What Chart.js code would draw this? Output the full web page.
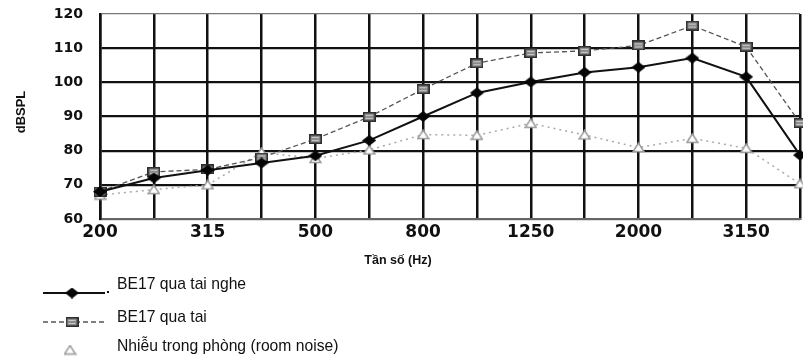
<!DOCTYPE html>
<html>
<head>
<meta charset="utf-8">
<script src="https://cdn.jsdelivr.net/npm/chart.js@4/dist/chart.umd.min.js"></script>
<style>
html,body{margin:0;padding:0;background:#fff;}
canvas{display:block;}
</style>
</head>
<body>
<canvas id="c" width="803" height="362"></canvas>
<script>
// ---- data ----
const frequencies = ['200','250','315','400','500','630','800','1000','1250','1600','2000','2500','3150','4000'];
const xTickLabels = ['200','','315','','500','','800','','1250','','2000','','3150',''];
const headphoneValues = [68, 72, 74.3, 76.4, 78.5, 83, 90, 96.9, 100.1, 102.9, 104.4, 107.1, 101.6, 78.7];
const earValues = [68, 73.8, 74.5, 78, 83.4, 89.9, 98, 105.6, 108.6, 109.2, 110.8, 116.6, 110.4, 88.1];
const noiseValues = [67, 68.6, 70, 79.5, 77.7, 80.2, 84.7, 84.5, 88, 84.6, 80.9, 83.6, 80.7, 70.3];
const seriesNames = ['BE17 qua tai nghe', 'BE17 qua tai', 'Nhiễu trong phòng (room noise)'];
const xTitle = 'Tần số (Hz)';
const yTitle = 'dBSPL';

// ---- marker images ----
function mk(w, h, draw) {
  const c = document.createElement('canvas');
  c.width = w; c.height = h;
  draw(c.getContext('2d'), w, h);
  return c;
}
const diamondImg = mk(14, 11, (g, w, h) => {
  g.fillStyle = '#050505';
  g.beginPath(); g.moveTo(0, h/2); g.lineTo(w/2, 0); g.lineTo(w, h/2); g.lineTo(w/2, h); g.closePath(); g.fill();
});
const squareImg = mk(13, 10, (g, w, h) => {
  g.fillStyle = '#8c8c8c'; g.fillRect(0, 0, w, h);
  g.strokeStyle = '#2e2e2e'; g.lineWidth = 1.6; g.strokeRect(0.8, 0.8, w - 1.6, h - 1.6);
  g.strokeStyle = '#c8c8c8'; g.lineWidth = 1;
  g.beginPath(); g.moveTo(3, 3.5); g.lineTo(10, 3.5); g.moveTo(3, 6.5); g.lineTo(10, 6.5); g.stroke();
});
const triangleImg = mk(13, 11, (g, w, h) => {
  g.fillStyle = '#fff'; g.strokeStyle = '#9a9a9a'; g.lineWidth = 1.5;
  g.beginPath(); g.moveTo(w/2, 1); g.lineTo(w - 1, h - 1.5); g.lineTo(1, h - 1.5); g.closePath(); g.fill(); g.stroke();
});

// ---- extra text + legend ----
const decor = {
  id: 'decor',
  afterDraw(chart) {
    const g = chart.ctx;
    g.save();
    g.fillStyle = '#111';
    g.textBaseline = 'middle';
    // x title
    g.font = 'bold 12.5px "Liberation Sans", Arial, sans-serif';
    g.textAlign = 'center';
    g.fillText(xTitle, 398, 261);
    // y title
    g.save();
    g.translate(21, 112);
    g.rotate(-Math.PI / 2);
    g.font = 'bold 13px "Liberation Sans", Arial, sans-serif';
    g.fillText(yTitle, 0, 0);
    g.restore();
    // legend
    g.textAlign = 'left';
    g.font = '15.7px "Liberation Sans", Arial, sans-serif';
    // row 1
    g.strokeStyle = '#111'; g.lineWidth = 2; g.setLineDash([]);
    g.beginPath(); g.moveTo(43, 293); g.lineTo(105, 293); g.stroke();
    g.drawImage(diamondImg, 72 - 7, 293 - 5.5);
    g.fillRect(107, 291, 2, 2);
    g.fillText(seriesNames[0], 117, 285);
    // row 2
    g.strokeStyle = '#555'; g.lineWidth = 1.3; g.setLineDash([5, 3]);
    g.beginPath(); g.moveTo(43, 322); g.lineTo(105, 322); g.stroke();
    g.setLineDash([]);
    g.drawImage(squareImg, 72 - 6.5, 322 - 5);
    g.fillText(seriesNames[1], 117, 318);
    // row 3
    g.drawImage(triangleImg, 70 - 6.5, 350 - 5.5);
    g.fillText(seriesNames[2], 117, 347);
    g.restore();
  }
};

const tickFontY = {family: '"DejaVu Sans", sans-serif', size: 14, weight: 'bold'};
const tickFontX = {family: '"DejaVu Sans", sans-serif', size: 17, weight: 'bold'};

new Chart(document.getElementById('c'), {
  type: 'line',
  data: {
    labels: frequencies,
    datasets: [
      {
        label: seriesNames[0], data: headphoneValues,
        borderColor: '#111', borderWidth: 2, tension: 0,
        pointStyle: diamondImg, pointRadius: 6, clip: false
      },
      {
        label: seriesNames[1], data: earValues,
        borderColor: '#555', borderWidth: 1.3, borderDash: [5, 3], tension: 0,
        pointStyle: squareImg, pointRadius: 6, clip: false
      },
      {
        label: seriesNames[2], data: noiseValues,
        borderColor: '#aaa', borderWidth: 1.5, borderDash: [2, 4], tension: 0,
        pointStyle: triangleImg, pointRadius: 6, clip: false
      }
    ]
  },
  options: {
    responsive: false,
    animation: false,
    events: [],
    layout: {autoPadding: false, padding: {left: 0, right: 0, top: 14, bottom: 0}},
    plugins: {legend: {display: false}, tooltip: {enabled: false}},
    scales: {
      x: {
        offset: false,
        grid: {color: '#111', lineWidth: 2.5, drawTicks: false},
        border: {color: '#666', width: 2},
        ticks: {
          autoSkip: false, maxRotation: 0, minRotation: 0, padding: 3,
          color: '#111', font: tickFontX,
          callback: (v, i) => xTickLabels[i]
        },
        afterFit: s => { s.height = 143; }
      },
      y: {
        min: 60, max: 120,
        grid: {
          color: c => (c.tick && (c.tick.value === 120 || c.tick.value === 60)) ? '#777' : '#111',
          lineWidth: c => (c.tick && c.tick.value === 120) ? 1.3 : 2.2,
          drawTicks: false
        },
        border: {color: '#111', width: 2.5},
        ticks: {stepSize: 10, padding: 17, color: '#111', font: tickFontY},
        afterFit: s => { s.width = 100; s.paddingTop = 0; s.paddingBottom = 0; }
      }
    }
  },
  plugins: [decor]
});
</script>
</body>
</html>
